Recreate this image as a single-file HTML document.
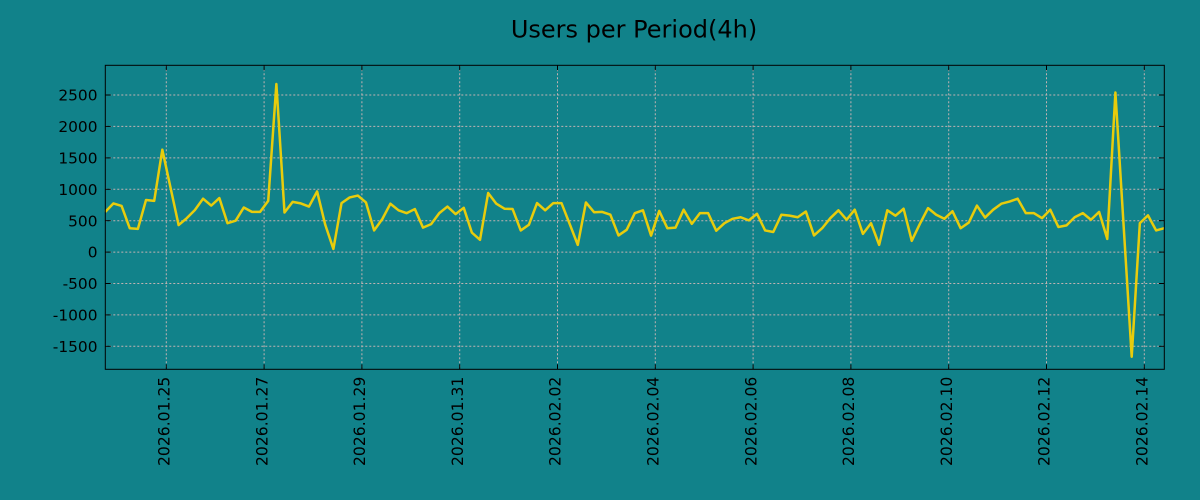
<!DOCTYPE html>
<html>
<head>
<meta charset="utf-8">
<style>
  html, body { margin: 0; padding: 0; background: #11828a; }
  svg { display: block; }
  text { font-family: "DejaVu Sans", "Liberation Sans", sans-serif; fill: #000; }
</style>
</head>
<body>
<svg width="1200" height="500" viewBox="0 0 1200 500" xmlns="http://www.w3.org/2000/svg">
  <rect x="0" y="0" width="1200" height="500" fill="#11828a"/>

  <!-- Title -->
  <text x="634" y="37.3" font-size="24" text-anchor="middle">Users per Period(4h)</text>

  <!-- Horizontal grid -->
  <g stroke="#c2b2b2" stroke-width="1" stroke-dasharray="2,2" fill="none">
    <line x1="105.3" y1="95.0" x2="1164.3" y2="95.0"/>
    <line x1="105.3" y1="126.4" x2="1164.3" y2="126.4"/>
    <line x1="105.3" y1="157.9" x2="1164.3" y2="157.9"/>
    <line x1="105.3" y1="189.3" x2="1164.3" y2="189.3"/>
    <line x1="105.3" y1="220.7" x2="1164.3" y2="220.7"/>
    <line x1="105.3" y1="252.1" x2="1164.3" y2="252.1"/>
    <line x1="105.3" y1="283.5" x2="1164.3" y2="283.5"/>
    <line x1="105.3" y1="314.9" x2="1164.3" y2="314.9"/>
    <line x1="105.3" y1="346.3" x2="1164.3" y2="346.3"/>
    <!-- Vertical grid -->
    <line x1="166.3" y1="65.3" x2="166.3" y2="369.3"/>
    <line x1="264.1" y1="65.3" x2="264.1" y2="369.3"/>
    <line x1="361.9" y1="65.3" x2="361.9" y2="369.3"/>
    <line x1="459.7" y1="65.3" x2="459.7" y2="369.3"/>
    <line x1="557.5" y1="65.3" x2="557.5" y2="369.3"/>
    <line x1="655.3" y1="65.3" x2="655.3" y2="369.3"/>
    <line x1="753.1" y1="65.3" x2="753.1" y2="369.3"/>
    <line x1="850.9" y1="65.3" x2="850.9" y2="369.3"/>
    <line x1="948.7" y1="65.3" x2="948.7" y2="369.3"/>
    <line x1="1046.5" y1="65.3" x2="1046.5" y2="369.3"/>
    <line x1="1144.3" y1="65.3" x2="1144.3" y2="369.3"/>
  </g>

  <!-- Data line -->
  <g transform="translate(105.3,252.1) scale(8.146,-0.06283)">
    <polyline fill="none" stroke="#e8cc0c" stroke-width="2.5" stroke-linejoin="round" vector-effect="non-scaling-stroke"
      points="0,640 1,775 2,735 3,380 4,370 5,830 6,815 7,1630 8,1030 9,430 10,540 11,670 12,850 13,740 14,860 15,460 16,500 17,710 18,640 19,640 20,815 21,2675 22,630 23,800 24,775 25,725 26,965 27,435 28,50 29,780 30,870 31,900 32,790 33,345 34,525 35,770 36,665 37,620 38,685 39,390 40,445 41,620 42,725 43,605 44,705 45,310 46,195 47,940 48,770 49,690 50,685 51,345 52,435 53,780 54,665 55,780 56,780 57,450 58,115 59,790 60,635 61,640 62,595 63,265 64,355 65,620 66,665 67,262 68,655 69,380 70,390 71,675 72,450 73,620 74,620 75,340 76,460 77,530 78,555 79,505 80,610 81,345 82,320 83,595 84,580 85,555 86,645 87,265 88,380 89,540 90,665 91,515 92,675 93,290 94,460 95,115 96,665 97,580 98,690 99,180 100,450 101,700 102,595 103,530 104,650 105,380 106,470 107,740 108,550 109,675 110,770 111,805 112,850 113,620 114,620 115,540 116,675 117,400 118,425 119,555 120,620 121,515 122,640 123,210 124,2540 125,440 126,-1665 127,460 128,585 129,345 130,380"/>
  </g>

  <!-- Spines -->
  <rect x="105.3" y="65.3" width="1059" height="304" fill="none" stroke="#000" stroke-width="1"/>

  <!-- Ticks -->
  <g stroke="#000" stroke-width="1">
    <!-- y ticks left & right -->
    <line x1="105.3" y1="95.0" x2="110.8" y2="95.0"/><line x1="1164.3" y1="95.0" x2="1158.8" y2="95.0"/>
    <line x1="105.3" y1="126.4" x2="110.8" y2="126.4"/><line x1="1164.3" y1="126.4" x2="1158.8" y2="126.4"/>
    <line x1="105.3" y1="157.9" x2="110.8" y2="157.9"/><line x1="1164.3" y1="157.9" x2="1158.8" y2="157.9"/>
    <line x1="105.3" y1="189.3" x2="110.8" y2="189.3"/><line x1="1164.3" y1="189.3" x2="1158.8" y2="189.3"/>
    <line x1="105.3" y1="220.7" x2="110.8" y2="220.7"/><line x1="1164.3" y1="220.7" x2="1158.8" y2="220.7"/>
    <line x1="105.3" y1="252.1" x2="110.8" y2="252.1"/><line x1="1164.3" y1="252.1" x2="1158.8" y2="252.1"/>
    <line x1="105.3" y1="283.5" x2="110.8" y2="283.5"/><line x1="1164.3" y1="283.5" x2="1158.8" y2="283.5"/>
    <line x1="105.3" y1="314.9" x2="110.8" y2="314.9"/><line x1="1164.3" y1="314.9" x2="1158.8" y2="314.9"/>
    <line x1="105.3" y1="346.3" x2="110.8" y2="346.3"/><line x1="1164.3" y1="346.3" x2="1158.8" y2="346.3"/>
    <!-- x ticks top & bottom -->
    <line x1="166.3" y1="369.3" x2="166.3" y2="364.3"/><line x1="166.3" y1="65.3" x2="166.3" y2="70.3"/>
    <line x1="264.1" y1="369.3" x2="264.1" y2="364.3"/><line x1="264.1" y1="65.3" x2="264.1" y2="70.3"/>
    <line x1="361.9" y1="369.3" x2="361.9" y2="364.3"/><line x1="361.9" y1="65.3" x2="361.9" y2="70.3"/>
    <line x1="459.7" y1="369.3" x2="459.7" y2="364.3"/><line x1="459.7" y1="65.3" x2="459.7" y2="70.3"/>
    <line x1="557.5" y1="369.3" x2="557.5" y2="364.3"/><line x1="557.5" y1="65.3" x2="557.5" y2="70.3"/>
    <line x1="655.3" y1="369.3" x2="655.3" y2="364.3"/><line x1="655.3" y1="65.3" x2="655.3" y2="70.3"/>
    <line x1="753.1" y1="369.3" x2="753.1" y2="364.3"/><line x1="753.1" y1="65.3" x2="753.1" y2="70.3"/>
    <line x1="850.9" y1="369.3" x2="850.9" y2="364.3"/><line x1="850.9" y1="65.3" x2="850.9" y2="70.3"/>
    <line x1="948.7" y1="369.3" x2="948.7" y2="364.3"/><line x1="948.7" y1="65.3" x2="948.7" y2="70.3"/>
    <line x1="1046.5" y1="369.3" x2="1046.5" y2="364.3"/><line x1="1046.5" y1="65.3" x2="1046.5" y2="70.3"/>
    <line x1="1144.3" y1="369.3" x2="1144.3" y2="364.3"/><line x1="1144.3" y1="65.3" x2="1144.3" y2="70.3"/>
  </g>

  <!-- Y tick labels -->
  <g font-size="15.4" text-anchor="end">
    <text x="97.5" y="100.6">2500</text>
    <text x="97.5" y="132.0">2000</text>
    <text x="97.5" y="163.5">1500</text>
    <text x="97.5" y="194.9">1000</text>
    <text x="97.5" y="226.3">500</text>
    <text x="97.5" y="257.7">0</text>
    <text x="97.5" y="289.1">-500</text>
    <text x="97.5" y="320.5">-1000</text>
    <text x="97.5" y="351.9">-1500</text>
  </g>

  <!-- X tick labels (rotated) -->
  <g font-size="15.6" text-anchor="end">
    <text transform="translate(169.5,376.7) rotate(-90)">2026.01.25</text>
    <text transform="translate(267.3,376.7) rotate(-90)">2026.01.27</text>
    <text transform="translate(365.1,376.7) rotate(-90)">2026.01.29</text>
    <text transform="translate(462.9,376.7) rotate(-90)">2026.01.31</text>
    <text transform="translate(560.7,376.7) rotate(-90)">2026.02.02</text>
    <text transform="translate(658.5,376.7) rotate(-90)">2026.02.04</text>
    <text transform="translate(756.3,376.7) rotate(-90)">2026.02.06</text>
    <text transform="translate(854.1,376.7) rotate(-90)">2026.02.08</text>
    <text transform="translate(951.9,376.7) rotate(-90)">2026.02.10</text>
    <text transform="translate(1049.7,376.7) rotate(-90)">2026.02.12</text>
    <text transform="translate(1147.5,376.7) rotate(-90)">2026.02.14</text>
  </g>
</svg>
</body>
</html>
